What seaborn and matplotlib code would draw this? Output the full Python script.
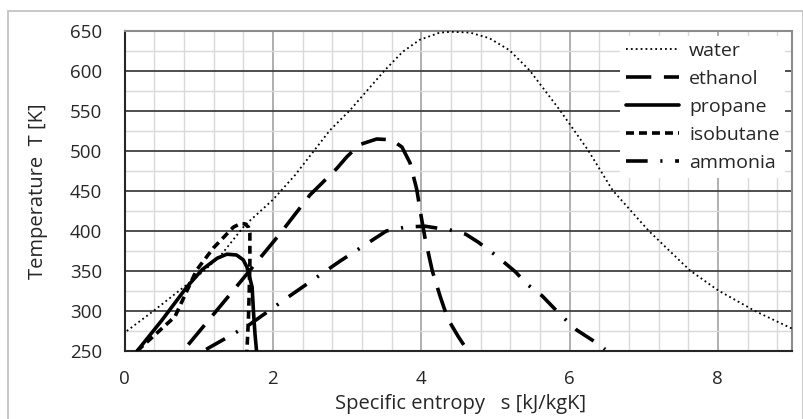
import matplotlib
matplotlib.use("Agg")
import matplotlib.pyplot as plt
import matplotlib.patches as mpatches
from matplotlib.ticker import MultipleLocator
import seaborn as sns

# saturation curves
water_s = [0.03, 0.39, 0.8, 1.07, 1.31, 1.62, 2.0, 2.3, 2.77, 3.04, 3.51, 3.75, 3.98, 4.25,
           4.41, 4.66, 4.92, 5.19, 5.46, 5.87, 6.25, 6.58, 7.07, 7.62, 8.0, 8.5, 9.0]
water_T = [275, 300, 330, 350, 371, 407, 439, 470, 526, 551, 601, 624, 639, 648,
           649, 648, 641, 626, 601, 551, 501, 451, 400, 351, 326, 300, 278]

ethanol_s = [0.86, 1.47, 2.1, 2.5, 2.86, 3.0, 3.17, 3.4, 3.6, 3.74, 3.85, 3.94, 4.0,
             4.05, 4.15, 4.26, 4.36, 4.5, 4.6]
ethanol_T = [258, 326, 397, 445, 478, 493, 508, 515, 514, 505, 485, 452, 418,
             392, 350, 317, 290, 268, 254]

propane_s = [0.17, 0.5, 0.84, 1.05, 1.25, 1.38, 1.51, 1.6, 1.65, 1.72, 1.74, 1.76, 1.78]
propane_T = [250, 288, 330, 352, 366, 371, 370, 364, 355, 330, 297, 270, 250]

isobutane_s = [0.17, 0.68, 0.97, 1.2, 1.47, 1.56, 1.62, 1.67, 1.69, 1.69, 1.68, 1.67, 1.65]
isobutane_T = [250, 293, 351, 379, 405, 409, 409, 405, 397, 360, 320, 289, 250]

ammonia_s = [1.1, 1.67, 2.23, 2.9, 3.53, 3.8, 4.05, 4.4, 4.6, 4.77, 5.0, 5.27, 5.42,
             5.63, 5.88, 6.1, 6.4, 6.48]
ammonia_T = [252, 282, 319, 362, 400, 405, 406, 401, 396, 386, 370, 349, 334,
             319, 295, 276, 258, 252]

series = [
    ("water", water_s, water_T, 1.3, (0, (1, 1.7))),
    ("ethanol", ethanol_s, ethanol_T, 2.6, (0, (7, 3.5))),
    ("propane", propane_s, propane_T, 2.6, "-"),
    ("isobutane", isobutane_s, isobutane_T, 2.6, (0, (2.2, 1.4))),
    ("ammonia", ammonia_s, ammonia_T, 2.6, (0, (6, 3.5, 0.6, 3.5))),
]

sns.set_style("white")
plt.rcParams["font.family"] = ["Open Sans", "DejaVu Sans"]
plt.rcParams["font.size"] = 13

fig = plt.figure(figsize=(8.04, 4.19), dpi=100)
ax = fig.add_axes([0.1549, 0.1623, 0.8302, 0.7637])

# light chart border like the spreadsheet frame
fig.patches.append(mpatches.Rectangle((8 / 804, -0.01), 795 / 804, 1 - 11 / 419 + 0.01,
                                      transform=fig.transFigure, fill=False,
                                      edgecolor="#bfbfbf", linewidth=1.2))

for name, s, T, lw, ls in series:
    sns.lineplot(x=s, y=T, ax=ax, sort=False, estimator=None, color="black",
                 linewidth=lw, linestyle=ls, label=name, zorder=3)

ax.set_xlim(0, 9)
ax.set_ylim(250, 650)
ax.xaxis.set_major_locator(MultipleLocator(2))
ax.xaxis.set_minor_locator(MultipleLocator(0.4))
ax.yaxis.set_major_locator(MultipleLocator(50))
ax.yaxis.set_minor_locator(MultipleLocator(25))

ax.grid(False)
ax.grid(which="minor", color="#d9d9d9", linewidth=1.0, zorder=0)
ax.grid(which="major", axis="x", color="#9a9a9a", linewidth=1.1, zorder=1)
ax.grid(which="major", axis="y", color="#404040", linewidth=1.3, zorder=1)
ax.set_axisbelow(True)

ax.tick_params(which="major", direction="out", length=6, width=1.2, color="#404040",
               labelcolor="#262626", labelsize=13.5)
ax.tick_params(which="minor", length=0)
ax.tick_params(axis="y", pad=10)
ax.tick_params(axis="x", pad=8)

for side in ["left", "bottom"]:
    ax.spines[side].set_color("#262626")
    ax.spines[side].set_linewidth(1.5)
for side in ["top", "right"]:
    ax.spines[side].set_color("#8c8c8c")
    ax.spines[side].set_linewidth(1.5)

ax.set_xlabel("Specific entropy   s [kJ/kgK]", color="#262626", fontsize=14.5)
ax.set_ylabel("Temperature  T [K]", color="#262626", fontsize=14.5)
ax.xaxis.set_label_coords(0.503, -0.135)
ax.yaxis.set_label_coords(-0.115, 0.5)

leg = ax.legend(loc="upper right", bbox_to_anchor=(0.99, 0.985), frameon=True,
                facecolor="white", edgecolor="none", framealpha=1, fancybox=False,
                fontsize=14, handlelength=2.75, handletextpad=0.5, labelspacing=0.52,
                borderpad=0.3, borderaxespad=0)
for t in leg.get_texts():
    t.set_color("#262626")
leg.set_zorder(5)

fig.savefig("out.png", dpi=100)
